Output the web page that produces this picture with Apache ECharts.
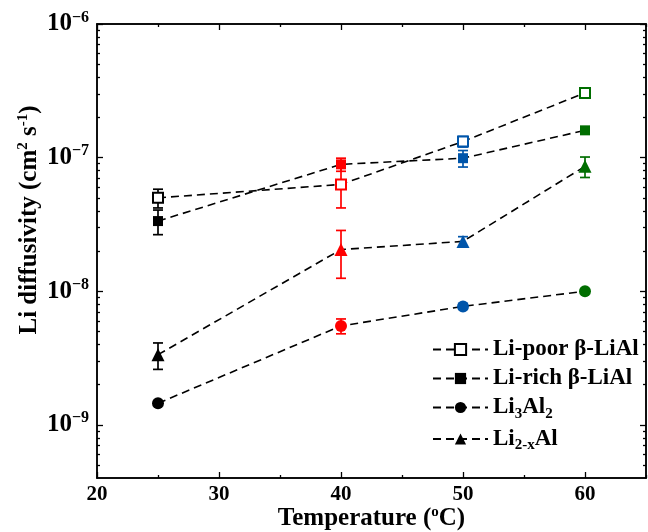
<!DOCTYPE html>
<html><head><meta charset="utf-8">
<script src="https://cdn.jsdelivr.net/npm/echarts@6/dist/echarts.min.js"></script>
<style>html,body{margin:0;padding:0;background:#fff}#c{width:648px;height:532px}</style>
</head><body><div id="c"></div>
<script>
// ---- data ----
const temps = [25, 40, 50, 60];
const pointColors = ['#000000', '#ff0000', '#0055aa', '#006e00'];
const seriesNames = ['Li-poor β-LiAl', 'Li-rich β-LiAl', 'Li3Al2', 'Li2-xAl'];
const liPoor = [5.0e-8, 6.3e-8, 1.32e-7, 3.05e-7];
const liPoorErr = [0.8e-8, 2.1e-8, 0.12e-7, 0.15e-7];
const liRich = [3.35e-8, 8.9e-8, 9.9e-8, 1.6e-7];
const liRichErr = [0.7e-8, 1.0e-8, 1.4e-8, 0.08e-7];
const li3al2 = [1.45e-9, 5.5e-9, 7.7e-9, 1.0e-8];
const li3al2Err = [0, 0.7e-9, 0.35e-9, 0];
const li2xal = [3.35e-9, 2.05e-8, 2.36e-8, 8.6e-8];
const li2xalErr = [0.75e-9, 0.8e-8, 0.2e-8, 1.5e-8];
const xMajorTicks = [20, 30, 40, 50, 60];
const xMinorTicks = [25, 35, 45, 55, 65];
const yMajorTicks = [1e-9, 1e-8, 1e-7, 1e-6];
const yMinorTicks = [5e-10,6e-10,7e-10,8e-10,9e-10,
  2e-9,3e-9,4e-9,5e-9,6e-9,7e-9,8e-9,9e-9,
  2e-8,3e-8,4e-8,5e-8,6e-8,7e-8,8e-8,9e-8,
  2e-7,3e-7,4e-7,5e-7,6e-7,7e-7,8e-7,9e-7];

const FONT = 'Liberation Serif';
const chart = echarts.init(document.getElementById('c'));

const defs = [
  {name: seriesNames[0], vals: liPoor, errs: liPoorErr, symbol: 'rect', size: 10, open: true},
  {name: seriesNames[1], vals: liRich, errs: liRichErr, symbol: 'rect', size: 10, open: false},
  {name: seriesNames[2], vals: li3al2, errs: li3al2Err, symbol: 'circle', size: 12, open: false},
  {name: seriesNames[3], vals: li2xal, errs: li2xalErr, symbol: 'triangle', size: 13, open: false}
];

const errData = [];
defs.forEach(d => d.vals.forEach((v, i) => {
  if (d.errs[i] > 0) errData.push([temps[i], v - d.errs[i], v + d.errs[i], i]);
}));

const lineSeries = defs.map(d => ({
  type: 'line',
  name: d.name,
  symbol: d.symbol,
  symbolSize: d.size,
  showSymbol: true,
  z: 3,
  lineStyle: {color: '#000', width: 1.6, type: [8, 5]},
  itemStyle: d.open ? {color: '#fff', borderColor: '#000', borderWidth: 2} : {color: '#000', borderWidth: 0},
  data: d.vals.map((v, i) => ({
    value: [temps[i], v],
    itemStyle: d.open ? {color: '#fff', borderColor: pointColors[i], borderWidth: 2}
                      : {color: pointColors[i], borderWidth: 0}
  }))
}));

const errSeries = {
  type: 'custom',
  z: 2,
  silent: true,
  renderItem: function (params, api) {
    const x = api.value(0), lo = api.value(1), hi = api.value(2);
    const c = pointColors[api.value(3)];
    const p1 = api.coord([x, lo]);
    const p2 = api.coord([x, hi]);
    const w = 5;
    const st = {stroke: c, lineWidth: 1.7};
    return {type: 'group', children: [
      {type: 'line', shape: {x1: p1[0], y1: p1[1], x2: p2[0], y2: p2[1]}, style: st},
      {type: 'line', shape: {x1: p1[0] - w, y1: p1[1], x2: p1[0] + w, y2: p1[1]}, style: st},
      {type: 'line', shape: {x1: p2[0] - w, y1: p2[1], x2: p2[0] + w, y2: p2[1]}, style: st}
    ]};
  },
  encode: {x: 0, y: [1, 2]},
  data: errData
};

const legendRich = {
  b: {fontFamily: FONT, fontWeight: 'bold', fontSize: 23, color: '#000'},
  sub: {fontFamily: FONT, fontWeight: 'bold', fontSize: 15, color: '#000', padding: [13, 0, 0, 0]}
};
const legendLabel = {
  'Li-poor β-LiAl': '{b|Li-poor β-LiAl}',
  'Li-rich β-LiAl': '{b|Li-rich β-LiAl}',
  'Li3Al2': '{b|Li}{sub|3}{b|Al}{sub|2}',
  'Li2-xAl': '{b|Li}{sub|2-x}{b|Al}'
};

const axisLineStyle = {color: '#000', width: 1.5};
const tickLabelRich = {
  b: {fontFamily: FONT, fontWeight: 'bold', fontSize: 25, color: '#000'},
  sup: {fontFamily: FONT, fontWeight: 'bold', fontSize: 16, color: '#000', padding: [0, 0, 13, 0]}
};

function xAx(pos, ticks, len, showLabel) {
  return {
    type: 'value', min: 20, max: 65, position: pos, gridIndex: 0,
    axisLine: {show: true, onZero: false, lineStyle: axisLineStyle},
    axisTick: {show: true, inside: true, length: len, customValues: ticks, lineStyle: {color: '#000', width: 1.3}},
    axisLabel: showLabel ? {customValues: xMajorTicks, margin: 6, fontFamily: FONT, fontWeight: 'bold', fontSize: 21, color: '#000'} : {show: false},
    splitLine: {show: false}
  };
}
function yAx(pos, ticks, len, showLabel) {
  return {
    type: 'log', logBase: 10, min: 4e-10, max: 1e-6, position: pos, gridIndex: 0,
    axisLine: {show: true, onZero: false, lineStyle: axisLineStyle},
    axisTick: {show: true, inside: true, length: len, customValues: ticks, lineStyle: {color: '#000', width: 1.3}},
    axisLabel: showLabel ? {
      customValues: yMajorTicks, margin: 8,
      formatter: v => '{b|10}{sup|−' + Math.round(-Math.log10(v)) + '}',
      rich: tickLabelRich
    } : {show: false},
    splitLine: {show: false}
  };
}

const titleRich = {
  b: {fontFamily: FONT, fontWeight: 'bold', fontSize: 25, color: '#000'},
  sup: {fontFamily: FONT, fontWeight: 'bold', fontSize: 15, color: '#000', padding: [0, 0, 12, 0]}
};

const xMain = xAx('bottom', xMajorTicks, 6, true);
xMain.name = '{b|Temperature (}{sup|o}{b|C)}';
xMain.nameLocation = 'middle';
xMain.nameGap = 27;
xMain.nameMoveOverlap = false;
xMain.nameTextStyle = {rich: titleRich};

const yMain = yAx('left', yMajorTicks, 6, true);
yMain.name = '{b|Li diffusivity (cm}{sup|2}{b| s}{sup|-1}{b|)}';
yMain.nameLocation = 'middle';
yMain.nameGap = 54;
yMain.nameMoveOverlap = false;
yMain.nameTextStyle = {rich: titleRich, padding: [0, 0, 0, 62]};

chart.setOption({
  animation: false,
  backgroundColor: '#fff',
  grid: {left: 97, right: 2, top: 24, bottom: 54, containLabel: false, outerBoundsMode: 'none'},
  xAxis: [xMain, xAx('bottom', xMinorTicks, 3, false), xAx('top', xMajorTicks, 6, false), xAx('top', xMinorTicks, 3, false)],
  yAxis: [yMain, yAx('left', yMinorTicks, 3, false), yAx('right', yMajorTicks, 6, false), yAx('right', yMinorTicks, 3, false)],
  legend: {
    orient: 'vertical', left: 427, top: 333,
    itemWidth: 55, itemHeight: 14, itemGap: 6,
    data: seriesNames,
    formatter: n => legendLabel[n],
    textStyle: {rich: legendRich}
  },
  series: [errSeries].concat(lineSeries)
});
</script></body></html>
